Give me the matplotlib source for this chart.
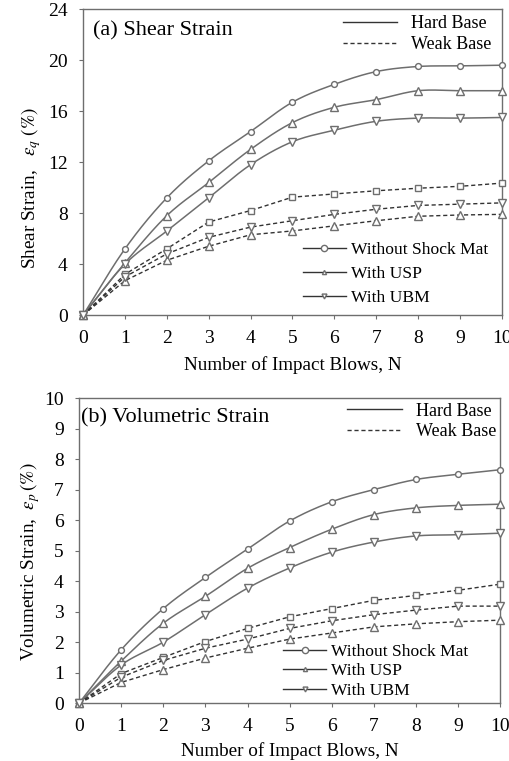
"""
Shear and volumetric strain against number of impact blows
"""

import numpy as np
import matplotlib.pyplot as plt
from matplotlib.lines import Line2D

plt.rcParams['font.family'] = ['Liberation Serif', 'DejaVu Serif']
plt.rcParams['mathtext.fontset'] = 'stix'

# ---------------------------------------------------------------------------- #
# Data
# ---------------------------------------------------------------------------- #

blows = [0, 1, 2, 3, 4, 5, 6, 7, 8, 9, 10]
series_names = ['Without Shock Mat', 'With USP', 'With UBM']

shear_hard_none = [0, 5.2, 9.2, 12.1, 14.4, 16.7, 18.1, 19.1, 19.5, 19.55, 19.6]
shear_hard_usp = [0, 4.1, 7.8, 10.4, 13.0, 15.1, 16.3, 16.9, 17.6, 17.6, 17.6]
shear_hard_ubm = [0, 4.0, 6.6, 9.2, 11.8, 13.6, 14.5, 15.2, 15.45, 15.45, 15.5]
shear_weak_none = [0, 3.2, 5.2, 7.3, 8.2, 9.25, 9.5, 9.75, 9.95, 10.1, 10.35]
shear_weak_usp = [0, 2.7, 4.3, 5.4, 6.3, 6.6, 7.0, 7.4, 7.75, 7.85, 7.9]
shear_weak_ubm = [0, 3.0, 4.8, 6.1, 6.9, 7.4, 7.9, 8.3, 8.6, 8.7, 8.8]

vol_hard_none = [0, 1.75, 3.1, 4.12, 5.05, 5.97, 6.6, 7.0, 7.33, 7.5, 7.65]
vol_hard_usp = [0, 1.38, 2.62, 3.5, 4.42, 5.1, 5.7, 6.18, 6.4, 6.48, 6.52]
vol_hard_ubm = [0, 1.25, 2.0, 2.9, 3.77, 4.43, 4.95, 5.28, 5.48, 5.52, 5.57]
vol_weak_none = [0, 0.97, 1.5, 2.02, 2.45, 2.83, 3.1, 3.37, 3.53, 3.7, 3.9]
vol_weak_usp = [0, 0.68, 1.1, 1.48, 1.8, 2.1, 2.3, 2.5, 2.6, 2.67, 2.72]
vol_weak_ubm = [0, 0.85, 1.4, 1.8, 2.1, 2.45, 2.7, 2.9, 3.05, 3.18, 3.18]

# ---------------------------------------------------------------------------- #
# Style
# ---------------------------------------------------------------------------- #

grey = '#6e6e6e'
dark = '#333333'
markers = ['o', '^', 'v']
weak_markers = ['s', '^', 'v']
msizes = {'o': 4.2, 's': 4.2, '^': 5.2, 'v': 5.2}


def smooth(x, y, n=20):
    """Catmull-Rom curve through the points, like a spreadsheet smoothed line"""
    x = np.asarray(x, float)
    y = np.asarray(y, float)
    px = np.concatenate([[2*x[0] - x[1]], x, [2*x[-1] - x[-2]]])
    py = np.concatenate([[2*y[0] - y[1]], y, [2*y[-1] - y[-2]]])
    xs, ys = [], []
    t = np.linspace(0, 1, n, endpoint=False)
    for i in range(1, len(px) - 2):
        for arr, out in ((px, xs), (py, ys)):
            p0, p1, p2, p3 = arr[i-1], arr[i], arr[i+1], arr[i+2]
            out.extend(0.5*((2*p1) + (-p0 + p2)*t + (2*p0 - 5*p1 + 4*p2 - p3)*t**2
                            + (-p0 + 3*p1 - 3*p2 + p3)*t**3))
    xs.append(x[-1])
    ys.append(y[-1])
    return xs, ys


def draw_panel(ax, hard, weak, ylim, yticks, title, title_pos, ylabel,
               ylabel_pos, base_anchor, mark_anchor, mark_spacing):
    for vals, mk in zip(hard, markers):
        sx, sy = smooth(blows, vals)
        ax.plot(sx, sy, color=grey, lw=1.1, zorder=2)
        ax.plot(blows, vals, ls='none', marker=mk, ms=msizes[mk], mfc='white',
                mec=grey, mew=1.0, zorder=3, clip_on=False)
    for vals, mk in zip(weak, weak_markers):
        ax.plot(blows, vals, ls=(0, (3, 2)), color=dark, lw=1.0,
                marker=mk, ms=msizes[mk], mfc='white', mec=grey, mew=1.0,
                zorder=3, clip_on=False)

    ax.set_xlim(0, 10)
    ax.set_ylim(*ylim)
    ax.set_xticks(range(0, 11))
    ax.set_yticks(yticks)
    ax.tick_params(direction='out', length=3, width=0.8, color=grey,
                   labelsize=14)
    ax.tick_params(axis='x', pad=7.5)
    ax.tick_params(axis='y', pad=8)
    for sp in ax.spines.values():
        sp.set_color(grey)
        sp.set_linewidth(1.0)

    ax.text(title_pos[0], title_pos[1], title, transform=ax.transAxes,
            ha='left', va='top', fontsize=16)
    ax.set_xlabel('Number of Impact Blows, N', fontsize=13.8)
    ax.set_ylabel(ylabel, fontsize=13.8)
    ax.yaxis.set_label_coords(*ylabel_pos)

    base_handles = [Line2D([], [], color=dark, lw=1.0),
                    Line2D([], [], color=dark, lw=1.0, ls=(0, (3, 2)))]
    leg1 = ax.legend(base_handles, ['Hard Base', 'Weak Base'], loc='upper left',
                     frameon=False, fontsize=13, handlelength=3.0,
                     handletextpad=0.8, borderpad=0, borderaxespad=0,
                     labelspacing=0.2, bbox_to_anchor=base_anchor)
    ax.add_artist(leg1)

    mark_handles = [Line2D([], [], color=dark, lw=1.0, marker=mk, ms=ms,
                           mfc='white', mec=grey)
                    for mk, ms in zip(markers, [4.5, 3.0, 3.5])]
    ax.legend(mark_handles, series_names, loc='lower left', frameon=False,
              fontsize=12.6, handlelength=2.45, handletextpad=0.3,
              borderpad=0, borderaxespad=0, labelspacing=mark_spacing,
              bbox_to_anchor=mark_anchor)


# ---------------------------------------------------------------------------- #
# Plot
# ---------------------------------------------------------------------------- #

fig = plt.figure(figsize=(5.10, 7.61), dpi=100)
ax_top = fig.add_axes([0.163, 0.586, 0.821, 0.402])
ax_bot = fig.add_axes([0.155, 0.076, 0.826, 0.401])

draw_panel(ax_top,
           [shear_hard_none, shear_hard_usp, shear_hard_ubm],
           [shear_weak_none, shear_weak_usp, shear_weak_ubm],
           (0, 24), range(0, 25, 4), '(a) Shear Strain', (0.024, 0.962),
           r'Shear Strain,   $\varepsilon_q\ (\%)$', (-0.097, 0.415),
           (0.62, 0.98), (0.525, 0.03), 0.45)

draw_panel(ax_bot,
           [vol_hard_none, vol_hard_usp, vol_hard_ubm],
           [vol_weak_none, vol_weak_usp, vol_weak_ubm],
           (0, 10), range(0, 11), '(b) Volumetric Strain', (0.004, 0.966),
           r'Volumetric Strain,  $\varepsilon_p\,(\%)$', (-0.087, 0.464),
           (0.637, 0.985), (0.485, 0.013), 0.2)

ax_top.xaxis.labelpad = 7
ax_bot.xaxis.labelpad = 5

fig.savefig('out.png', dpi=100)
plt.close()
